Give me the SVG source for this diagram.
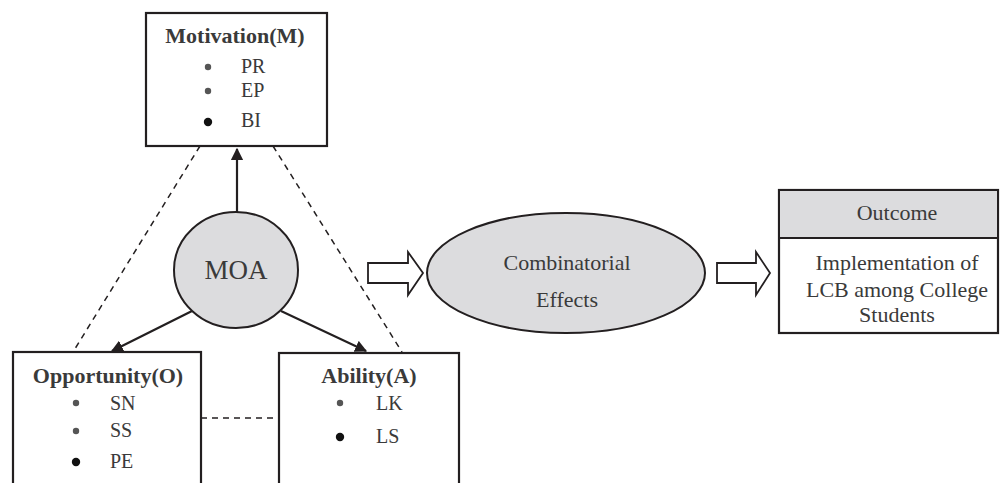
<svg xmlns="http://www.w3.org/2000/svg" width="1000" height="483" viewBox="0 0 1000 483">
<style>
.box{fill:#fff;stroke:#231f20;stroke-width:2.2}
.t{font-family:"Liberation Serif","Times New Roman",serif;fill:#3a3a3a}
.title{font-size:22px;font-weight:bold;text-anchor:middle}
.item{font-size:20px}
.c{text-anchor:middle;font-size:22px}
.dash{stroke:#231f20;stroke-width:1.5;stroke-dasharray:6,5;fill:none}
.line{stroke:#231f20;stroke-width:2.2;fill:none}
.gray{fill:#dcdcde;stroke:#231f20;stroke-width:2}
.big{fill:#fff;stroke:#231f20;stroke-width:1.8}
.b1{fill:#555}
.b2{fill:#111}
</style>
<defs>
<marker id="ah2" viewBox="0 0 10 10" refX="9" refY="5" markerWidth="5.5" markerHeight="5.5" orient="auto">
<path d="M0,0 L10,5 L0,10 z" fill="#231f20"/>
</marker>
</defs>
<g id="connectors">
<line class="dash" x1="200" y1="146" x2="73" y2="352"/>
<line class="dash" x1="273" y1="146" x2="402" y2="352"/>
<line class="dash" x1="201" y1="418" x2="279" y2="418"/>
<line class="line" x1="237" y1="212" x2="237" y2="149" marker-end="url(#ah2)"/>
<line class="line" x1="192" y1="311" x2="112" y2="351" marker-end="url(#ah2)"/>
<line class="line" x1="281" y1="311" x2="366" y2="351" marker-end="url(#ah2)"/>
<path class="big" d="M368,263 L408,263 L408,252 L423,273 L408,295 L408,283 L368,283 Z"/>
<path class="big" d="M717,263 L756,263 L756,252 L770,273 L756,295 L756,283 L717,283 Z"/>
</g>
<g id="motivation">
<rect class="box" x="146" y="13" width="181" height="133"/>
<text class="t title" x="235" y="43">Motivation(M)</text>
<circle class="b1" cx="208" cy="67" r="3.2"/>
<text class="t item" x="241" y="73">PR</text>
<circle class="b1" cx="208" cy="91" r="3.2"/>
<text class="t item" x="241" y="97">EP</text>
<circle class="b2" cx="208" cy="122" r="4.2"/>
<text class="t item" x="241" y="127">BI</text>
</g>
<g id="moa">
<ellipse class="gray" cx="236" cy="270" rx="62" ry="58"/>
<text class="t" x="236" y="279" font-size="27" text-anchor="middle">MOA</text>
</g>
<g id="opportunity">
<rect class="box" x="13" y="352" width="188" height="140"/>
<text class="t title" x="108" y="383">Opportunity(O)</text>
<circle class="b1" cx="76" cy="403" r="3.2"/>
<text class="t item" x="110" y="410">SN</text>
<circle class="b1" cx="76" cy="431" r="3.2"/>
<text class="t item" x="110" y="437">SS</text>
<circle class="b2" cx="76" cy="462" r="4.2"/>
<text class="t item" x="110" y="468">PE</text>
</g>
<g id="ability">
<rect class="box" x="279" y="353" width="180" height="140"/>
<text class="t title" x="369" y="383">Ability(A)</text>
<circle class="b1" cx="340" cy="403" r="3.2"/>
<text class="t item" x="376" y="410">LK</text>
<circle class="b2" cx="340" cy="437" r="4.2"/>
<text class="t item" x="376" y="443">LS</text>
</g>
<g id="combinatorial">
<ellipse class="gray" cx="566" cy="273" rx="139" ry="60"/>
<text class="t c" x="567" y="270">Combinatorial</text>
<text class="t c" x="567" y="307">Effects</text>
</g>
<g id="outcome">
<rect class="box" x="779" y="190" width="219" height="143"/>
<rect class="gray" x="779" y="190" width="219" height="48"/>
<text class="t c" x="897" y="220">Outcome</text>
<text class="t c" x="897" y="270">Implementation of</text>
<text class="t c" x="897" y="297">LCB among College</text>
<text class="t c" x="897" y="322">Students</text>
</g>
</svg>
